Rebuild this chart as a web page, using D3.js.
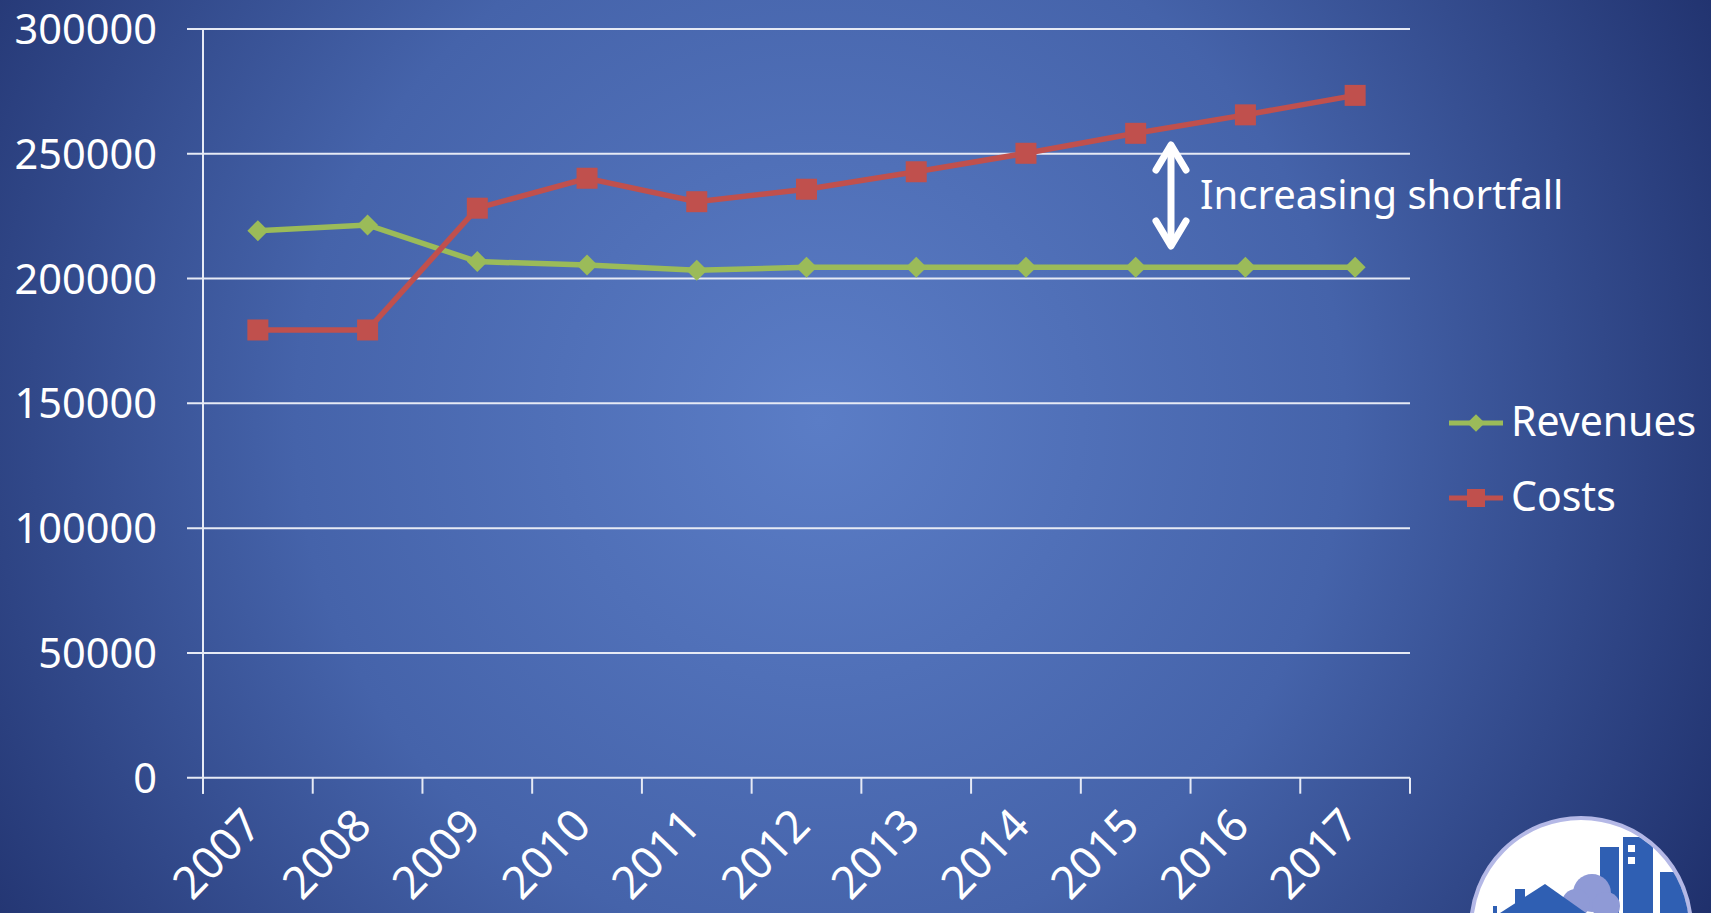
<!DOCTYPE html>
<html><head><meta charset="utf-8">
<script src="https://cdn.jsdelivr.net/npm/d3@7"></script>
<style>html,body{margin:0;padding:0;overflow:hidden;background:#2a3f80}</style>
</head><body>
<script>
const years = ["2007","2008","2009","2010","2011","2012","2013","2014","2015","2016","2017"];
const revenues = [219200,221500,206800,205400,203300,204500,204500,204500,204500,204500,204500];
const costs = [179400,179400,228200,240200,230800,235800,242800,250200,258200,265600,273400];
const yTicks = [0,50000,100000,150000,200000,250000,300000];
const seriesNames = ["Revenues","Costs"];
const annotation = "Increasing shortfall";

const W=1711,H=913;
const font="'Noto Sans','Open Sans',sans-serif";
const svg=d3.select("body").append("svg").attr("width",W).attr("height",H);
const defs=svg.append("defs");
const rg=defs.append("radialGradient").attr("id","bg").attr("gradientUnits","userSpaceOnUse")
  .attr("cx",820).attr("cy",420).attr("r",1050);
rg.append("stop").attr("offset",0).attr("stop-color","#5b7dc6");
rg.append("stop").attr("offset",0.5).attr("stop-color","#4563aa");
rg.append("stop").attr("offset",1).attr("stop-color","#1d2d68");
svg.append("rect").attr("width",W).attr("height",H).attr("fill","url(#bg)");

const x=d3.scaleBand().domain(years).range([203,1410]).padding(0);
const y=d3.scaleLinear().domain([0,300000]).range([777.7,29]);
const white="#ffffff";
const gridC="#e6eaf5";

// gridlines
svg.append("g").selectAll("line").data(yTicks).join("line")
  .attr("x1",187).attr("x2",1410).attr("y1",d=>y(d)).attr("y2",d=>y(d))
  .attr("stroke",gridC).attr("stroke-width",2);
// y axis line
svg.append("line").attr("x1",203).attr("x2",203).attr("y1",y(300000)).attr("y2",y(0)+16)
  .attr("stroke",gridC).attr("stroke-width",2);
// y labels
svg.append("g").selectAll("text").data(yTicks).join("text")
  .attr("x",157).attr("y",d=>y(d)+15).attr("text-anchor","end")
  .attr("font-family",font).attr("font-size",41.5).attr("fill",white).text(d=>d);
// x ticks
const bounds=years.map(d=>x(d)).concat([x.range()[1]]);
svg.append("g").selectAll("line").data(bounds).join("line")
  .attr("x1",d=>d).attr("x2",d=>d).attr("y1",y(0)).attr("y2",y(0)+16)
  .attr("stroke",gridC).attr("stroke-width",2);
// x labels
svg.append("g").selectAll("text").data(years).join("text")
  .attr("transform",d=>`translate(${x(d)+x.bandwidth()/2+6},${y(0)+50}) rotate(-46)`)
  .attr("text-anchor","end").attr("font-family",font).attr("font-size",45).attr("fill",white).text(d=>d);

const cx=d=>x(d)+x.bandwidth()/2;
const line=d3.line().x((d,i)=>cx(years[i])).y(d=>y(d));
const green="#9bbb59", red="#c0504d";
svg.append("path").datum(revenues).attr("d",line).attr("fill","none").attr("stroke",green).attr("stroke-width",5.5);
svg.append("path").datum(costs).attr("d",line).attr("fill","none").attr("stroke",red).attr("stroke-width",5.5);
const diamond=d3.symbol().type(d3.symbolDiamond2).size(280);
svg.append("g").selectAll("path").data(revenues).join("path")
  .attr("transform",(d,i)=>`translate(${cx(years[i])},${y(d)})`).attr("d",diamond).attr("fill",green);
svg.append("g").selectAll("rect").data(costs).join("rect")
  .attr("x",(d,i)=>cx(years[i])-10.5).attr("y",d=>y(d)-10.5).attr("width",21).attr("height",21).attr("fill",red);

// legend
const lg=[{n:seriesNames[0],c:green,t:"d",ly:423},{n:seriesNames[1],c:red,t:"s",ly:498}];
lg.forEach(l=>{
  svg.append("line").attr("x1",1449).attr("x2",1503).attr("y1",l.ly).attr("y2",l.ly).attr("stroke",l.c).attr("stroke-width",5);
  if(l.t==="d") svg.append("path").attr("transform",`translate(1476,${l.ly})`).attr("d",d3.symbol().type(d3.symbolDiamond2).size(200)).attr("fill",l.c);
  else svg.append("rect").attr("x",1467).attr("y",l.ly-9).attr("width",18).attr("height",18).attr("fill",l.c);
  svg.append("text").attr("x",1511).attr("y",l.ly+13).attr("font-family",font).attr("font-size",41).attr("fill",white).text(l.n);
});

// annotation arrow
const ax=1171, ay1=142, ay2=249;
svg.append("line").attr("x1",ax).attr("x2",ax).attr("y1",ay1+3).attr("y2",ay2-3).attr("stroke",white).attr("stroke-width",7);
svg.append("path").attr("d",`M${ax-15},${ay1+28} L${ax},${ay1+3} L${ax+15},${ay1+28}`).attr("fill","none").attr("stroke",white).attr("stroke-width",7).attr("stroke-linecap","round").attr("stroke-linejoin","round");
svg.append("path").attr("d",`M${ax-15},${ay2-28} L${ax},${ay2-3} L${ax+15},${ay2-28}`).attr("fill","none").attr("stroke",white).attr("stroke-width",7).attr("stroke-linecap","round").attr("stroke-linejoin","round");
svg.append("text").attr("x",1200).attr("y",209).attr("font-family",font).attr("font-size",40).attr("fill",white).text(annotation);

// logo
defs.append("clipPath").attr("id","lc").append("circle").attr("cx",1581).attr("cy",928).attr("r",108);
const logo=svg.append("g");
logo.append("circle").attr("cx",1581).attr("cy",928).attr("r",110).attr("fill","#ffffff").attr("stroke","#b4b8e6").attr("stroke-width",4);
const blue="#2f5fb3", lav="#8f9ad6";
const lgc=logo.append("g").attr("clip-path","url(#lc)");
lgc.append("rect").attr("x",1600).attr("y",847).attr("width",19).attr("height",80).attr("fill",blue);
lgc.append("rect").attr("x",1623).attr("y",837).attr("width",30).attr("height",90).attr("fill",blue);
lgc.append("rect").attr("x",1628).attr("y",845).attr("width",7).attr("height",7).attr("fill","#ffffff");
lgc.append("rect").attr("x",1628).attr("y",857).attr("width",7).attr("height",7).attr("fill","#ffffff");
lgc.append("rect").attr("x",1660).attr("y",872).attr("width",30).attr("height",60).attr("fill",blue);
lgc.append("circle").attr("cx",1592).attr("cy",893).attr("r",19).attr("fill",lav);
lgc.append("circle").attr("cx",1576).attr("cy",903).attr("r",14).attr("fill",lav);
lgc.append("circle").attr("cx",1606).attr("cy",906).attr("r",14).attr("fill",lav);
lgc.append("path").attr("d","M1500,913 L1545,884 L1586,913 Z").attr("fill",blue);
lgc.append("rect").attr("x",1515).attr("y",889).attr("width",10).attr("height",16).attr("fill",blue);
lgc.append("rect").attr("x",1493).attr("y",906).attr("width",4).attr("height",7).attr("fill",blue);
</script>
</body></html>
